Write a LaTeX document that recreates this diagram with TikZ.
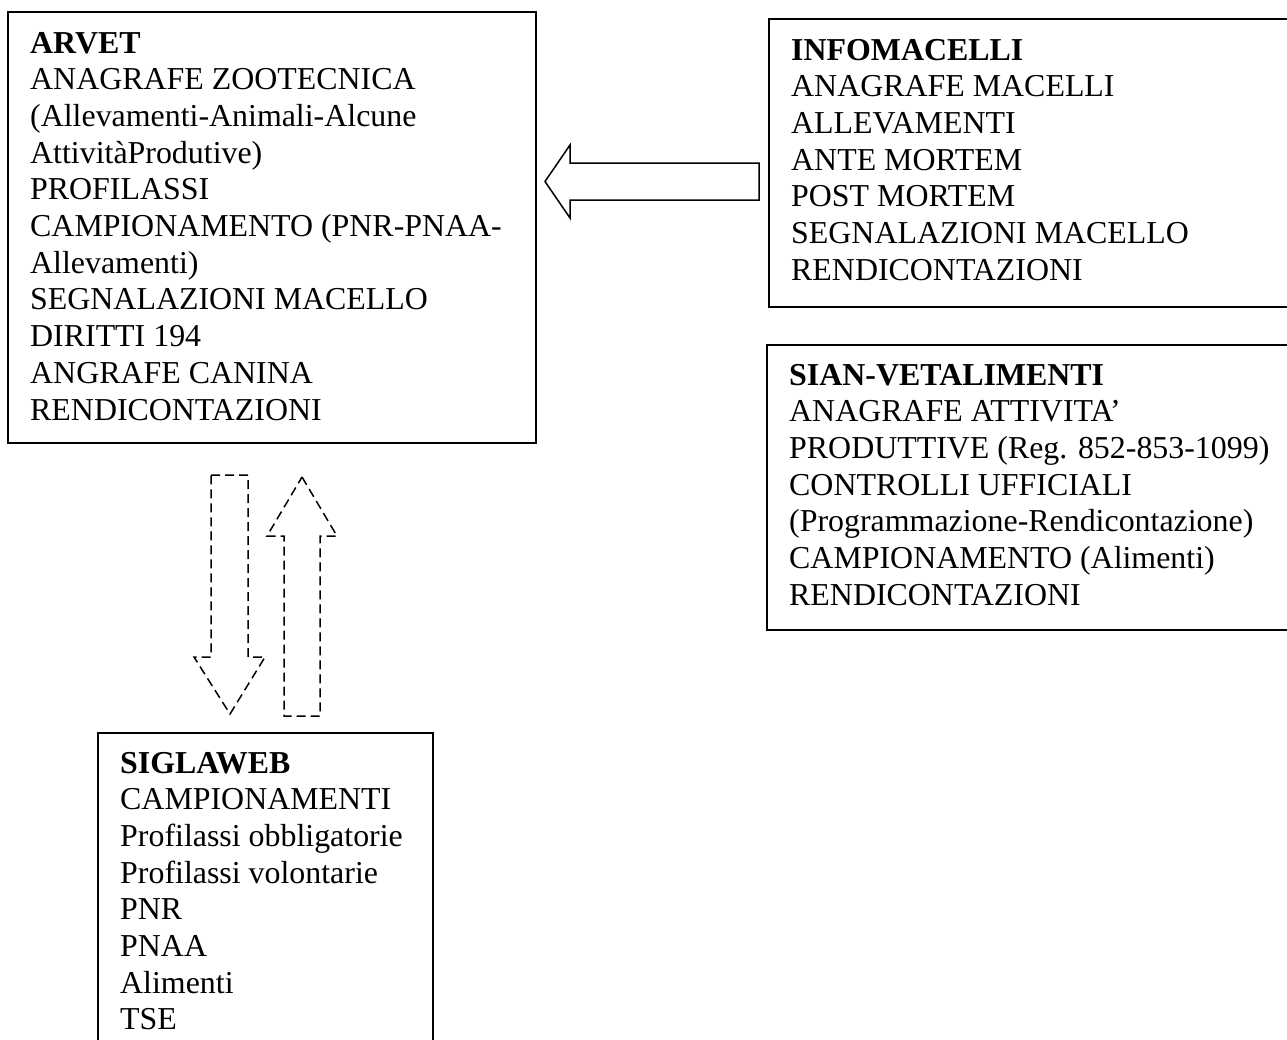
\documentclass[tikz,border=0pt]{standalone}
\usepackage{fontspec}
\setmainfont{Liberation Serif}
\begin{document}
\begin{tikzpicture}[x=1pt,y=-1pt,
  box/.style={draw,line width=1.7pt},
  txt/.style={anchor=base west,inner sep=0pt,font=\fontsize{31.9}{36.7}\selectfont},
  blockarrow/.style={draw,line width=1.5pt,line join=miter},
  dasharrow/.style={draw,line width=1.5pt,dash pattern=on 9pt off 5pt,line join=miter}]
\useasboundingbox (0,0) rectangle (1287,1039);
\clip (0,0) rectangle (1287,1039);
% boxes
\draw[box] (8,12) rectangle (536,443);
\draw[box] (769,19) rectangle (1300,307);
\draw[box] (767,345) rectangle (1300,630);
\draw[box] (98,733) rectangle (433,1060);
% texts
\node[txt] (arvet) at (30,53) {\begin{tabular}[t]{@{}l@{}}
\textbf{ARVET}\\
ANAGRAFE ZOOTECNICA\\
(Allevamenti-Animali-Alcune\\
AttivitàProdutive)\\
PROFILASSI\\
CAMPIONAMENTO (PNR-PNAA-\\
Allevamenti)\\
SEGNALAZIONI MACELLO\\
DIRITTI 194\\
ANGRAFE CANINA\\
RENDICONTAZIONI
\end{tabular}};
\node[txt] (infomacelli) at (791,60) {\begin{tabular}[t]{@{}l@{}}
\textbf{INFOMACELLI}\\
ANAGRAFE MACELLI\\
ALLEVAMENTI\\
ANTE MORTEM\\
POST MORTEM\\
SEGNALAZIONI MACELLO\\
RENDICONTAZIONI
\end{tabular}};
\node[txt] (sian) at (789,385) {\begin{tabular}[t]{@{}l@{}}
\textbf{SIAN-VETALIMENTI}\\
ANAGRAFE ATTIVITA’\\
PRODUTTIVE (Reg. 852-853-1099)\\
CONTROLLI UFFICIALI\\
(Programmazione-Rendicontazione)\\
CAMPIONAMENTO (Alimenti)\\
RENDICONTAZIONI
\end{tabular}};
\node[txt] (siglaweb) at (120,773) {\begin{tabular}[t]{@{}l@{}}
\textbf{SIGLAWEB}\\
CAMPIONAMENTI\\
Profilassi obbligatorie\\
Profilassi volontarie\\
PNR\\
PNAA\\
Alimenti\\
TSE
\end{tabular}};
% block arrows
\draw[blockarrow] (759,163) -- (570,163) -- (570,145) -- (545,181.5) -- (570,218) -- (570,200) -- (759,200) -- cycle;
\draw[dasharrow] (211,475) -- (248,475) -- (248,657) -- (265,657) -- (230,714) -- (194,657) -- (211,657) -- cycle;
\draw[dasharrow] (302,477) -- (337,536) -- (320,536) -- (320,716) -- (284,716) -- (284,536) -- (267,536) -- cycle;
\end{tikzpicture}
\end{document}
